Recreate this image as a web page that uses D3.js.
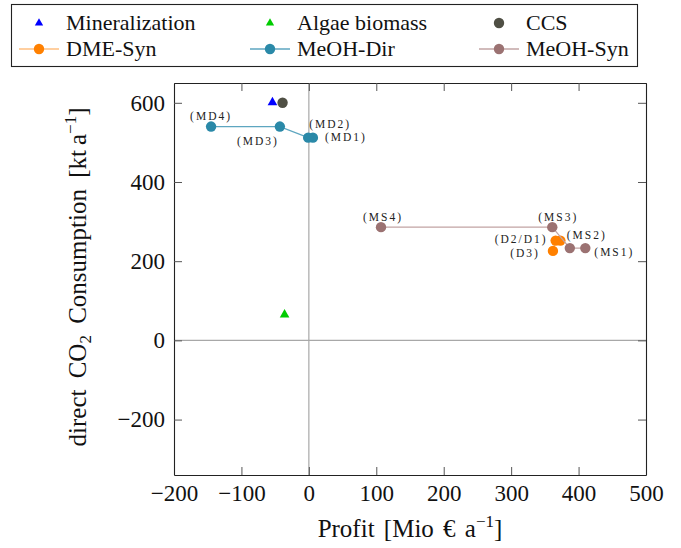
<!DOCTYPE html>
<html>
<head>
<meta charset="utf-8">
<title>Profit vs CO2</title>
<script src="https://cdn.jsdelivr.net/npm/d3@7"></script>
<style>
body { margin: 0; background: #fff; }
.axis path { stroke: #222; stroke-width: 1.1px; }
.axis line { stroke: #555; stroke-width: 1px; }
</style>
</head>
<body>
<script>

// ---- data ----
var xTicks = [-200, -100, 0, 100, 200, 300, 400, 500];
var yTicks = [-200, 0, 200, 400, 600];

var mineralization = [{x: -54, y: 601}];
var algae = [{x: -36, y: 65}];
var ccs = [{x: -39, y: 600}];

var dmeNames = ["D1", "D2", "D3"];
var dmeProfit = [373, 366, 362];
var dmeCO2 = [252, 252, 226];

var mdNames = ["MD1", "MD2", "MD3", "MD4"];
var mdProfit = [6, -1, -43, -145];
var mdCO2 = [512, 512, 540, 540];

var msNames = ["MS1", "MS2", "MS3", "MS4"];
var msProfit = [410, 387, 361, 107];
var msCO2 = [233, 233, 286, 286];

var pointLabels = [
    {text: "(MD4)", at: "MD4"}, {text: "(MD3)", at: "MD3"},
    {text: "(MD2)", at: "MD2"}, {text: "(MD1)", at: "MD1"},
    {text: "(MS4)", at: "MS4"}, {text: "(MS3)", at: "MS3"},
    {text: "(MS2)", at: "MS2"}, {text: "(MS1)", at: "MS1"},
    {text: "(D2/D1)", at: "D2"}, {text: "(D3)", at: "D3"}
];

// where each label sits relative to its point (px), and its anchor
var labelPlace = {
    "(MD4)": [0, -10, "middle"], "(MD3)": [-22, 15, "middle"],
    "(MD2)": [22, -13, "middle"], "(MD1)": [12, 0, "start"],
    "(MS4)": [2, -10, "middle"], "(MS3)": [6, -10, "middle"],
    "(MS2)": [17, -13, "middle"], "(MS1)": [9, 4, "start"],
    "(D2/D1)": [-8, -1.5, "end"], "(D3)": [-13, 2.5, "end"]
};

var SERIF = "Liberation Serif";

function zip(names, xs, ys) {
    return names.map(function(n, i) { return {name: n, x: xs[i], y: ys[i]}; });
}

var series = [
    {name: "DME-Syn", color: "#ff8000", line: "#ffbf80", pts: zip(dmeNames, dmeProfit, dmeCO2)},
    {name: "MeOH-Dir", color: "#2a89a8", line: "#5ea6c0", pts: zip(mdNames, mdProfit, mdCO2)},
    {name: "MeOH-Syn", color: "#9b7272", line: "#c2a4a4", pts: zip(msNames, msProfit, msCO2)}
];

var margin = {top: 83, left: 174},
    width = 472,
    height = 392;

var svg = d3.select("body").append("svg")
    .attr("width", 681)
    .attr("height", 548)
    .attr("font-family", SERIF);

var g = svg.append("g")
    .attr("transform", "translate(" + margin.left + "," + margin.top + ")");

var x = d3.scaleLinear().domain([-200, 500]).range([0, width]);
var y = d3.scaleLinear().domain([-340, 650]).range([height, 0]);

var fmt = function(d) { return d < 0 ? "\u2212" + Math.abs(d) : String(d); };

// zero lines
g.append("line")
    .attr("x1", x(0)).attr("x2", x(0)).attr("y1", 0).attr("y2", height)
    .attr("stroke", "#a8a8a8").attr("stroke-width", 1.2);
g.append("line")
    .attr("x1", 0).attr("x2", width).attr("y1", y(0)).attr("y2", y(0))
    .attr("stroke", "#a8a8a8").attr("stroke-width", 1.2);

// axes, ticks pointing inwards on all four sides
g.append("g").attr("class", "axis")
    .attr("transform", "translate(0," + height + ")")
    .call(d3.axisBottom(x).tickValues(xTicks).tickFormat(fmt).tickSizeInner(-8).tickSizeOuter(0).tickPadding(10));
g.append("g").attr("class", "axis")
    .call(d3.axisTop(x).tickValues(xTicks).tickFormat("").tickSizeInner(-8).tickSizeOuter(0));
g.append("g").attr("class", "axis")
    .call(d3.axisLeft(y).tickValues(yTicks).tickFormat(fmt).tickSizeInner(-8).tickSizeOuter(0).tickPadding(9));
g.append("g").attr("class", "axis")
    .attr("transform", "translate(" + width + ",0)")
    .call(d3.axisRight(y).tickValues(yTicks).tickFormat("").tickSizeInner(-8).tickSizeOuter(0));

g.selectAll(".axis").attr("font-family", SERIF).attr("font-size", 23);
g.selectAll(".axis text").attr("fill", "#111");

var tri = d3.symbol().type(d3.symbolTriangle).size(40);

// line series
var line = d3.line().x(function(d) { return x(d.x); }).y(function(d) { return y(d.y); });
series.forEach(function(s) {
    g.append("path")
        .attr("d", line(s.pts))
        .attr("fill", "none")
        .attr("stroke", s.line)
        .attr("stroke-width", 1.3);
    g.selectAll(null).data(s.pts).enter().append("circle")
        .attr("cx", function(d) { return x(d.x); })
        .attr("cy", function(d) { return y(d.y); })
        .attr("r", 5.2)
        .attr("fill", s.color);
});

// single points
g.selectAll(null).data(mineralization).enter().append("path")
    .attr("d", tri)
    .attr("transform", function(d) { return "translate(" + x(d.x) + "," + y(d.y) + ")"; })
    .attr("fill", "#0000ff");
g.selectAll(null).data(algae).enter().append("path")
    .attr("d", tri)
    .attr("transform", function(d) { return "translate(" + x(d.x) + "," + y(d.y) + ")"; })
    .attr("fill", "#00cc00");
g.selectAll(null).data(ccs).enter().append("circle")
    .attr("cx", function(d) { return x(d.x); })
    .attr("cy", function(d) { return y(d.y); })
    .attr("r", 5.2)
    .attr("fill", "#4f4f44");

// point labels
var byName = {};
series.forEach(function(s) { s.pts.forEach(function(p) { byName[p.name] = p; }); });
g.selectAll(".ptlabel").data(pointLabels).enter().append("text")
    .attr("class", "ptlabel")
    .attr("font-family", SERIF)
    .attr("font-size", 11.5)
    .attr("letter-spacing", 2)
    .attr("fill", "#222")
    .attr("x", function(d) { return x(byName[d.at].x) + labelPlace[d.text][0]; })
    .attr("y", function(d) { return y(byName[d.at].y) + labelPlace[d.text][1]; })
    .attr("dy", "0.33em")
    .attr("text-anchor", function(d) { return labelPlace[d.text][2]; })
    .text(function(d) { return d.text; });

// axis titles
var xt = svg.append("text")
    .attr("x", margin.left + width / 2)
    .attr("y", 537)
    .attr("text-anchor", "middle")
    .attr("font-family", SERIF)
    .attr("font-size", 25)
    .attr("word-spacing", 3)
    .attr("fill", "#111");
xt.append("tspan").text("Profit [Mio \u20ac a");
xt.append("tspan").attr("font-size", 17).attr("dy", -10).text("\u22121");
xt.append("tspan").attr("dy", 10).text("]");

var yt = svg.append("text")
    .attr("transform", "translate(86,277) rotate(-90)")
    .attr("text-anchor", "middle")
    .attr("font-family", SERIF)
    .attr("font-size", 25)
    .attr("word-spacing", 5)
    .attr("fill", "#111");
yt.append("tspan").text("direct CO");
yt.append("tspan").attr("font-size", 17).attr("dy", 5).text("2");
yt.append("tspan").attr("dy", -5).text(" Consumption [kt\u2009a");
yt.append("tspan").attr("font-size", 17).attr("dy", -10).text("\u22121");
yt.append("tspan").attr("dy", 10).text("]");

// legend
var legendItems = [
    {name: "Mineralization", kind: "tri", color: "#0000ff"},
    {name: "Algae biomass", kind: "tri", color: "#00cc00"},
    {name: "CCS", kind: "dot", color: "#4f4f44"}
].concat(series.map(function(s) { return {name: s.name, kind: "line", color: s.color, line: s.line}; }));

var colX = [39, 270, 499];
var rowY = [23, 49];

svg.append("rect")
    .attr("x", 11.5).attr("y", 4.5)
    .attr("width", 626).attr("height", 62)
    .attr("fill", "#fff").attr("stroke", "#222").attr("stroke-width", 1.1);

var li = svg.selectAll(".leg").data(legendItems).enter().append("g")
    .attr("class", "leg")
    .attr("transform", function(d, i) { return "translate(" + colX[i % 3] + "," + rowY[Math.floor(i / 3)] + ")"; });

li.filter(function(d) { return d.kind === "line"; }).append("line")
    .attr("x1", -20).attr("x2", 20)
    .attr("stroke", function(d) { return d.line; })
    .attr("stroke-width", 1.5);
li.filter(function(d) { return d.kind === "tri"; }).append("path")
    .attr("d", d3.symbol().type(d3.symbolTriangle).size(30))
    .attr("fill", function(d) { return d.color; });
li.filter(function(d) { return d.kind !== "tri"; }).append("circle")
    .attr("r", 5.2)
    .attr("fill", function(d) { return d.color; });
li.append("text")
    .attr("x", 27)
    .attr("dy", "0.33em")
    .attr("font-family", SERIF)
    .attr("font-size", 22)
    .attr("fill", "#111")
    .text(function(d) { return d.name; });

</script>
</body>
</html>
